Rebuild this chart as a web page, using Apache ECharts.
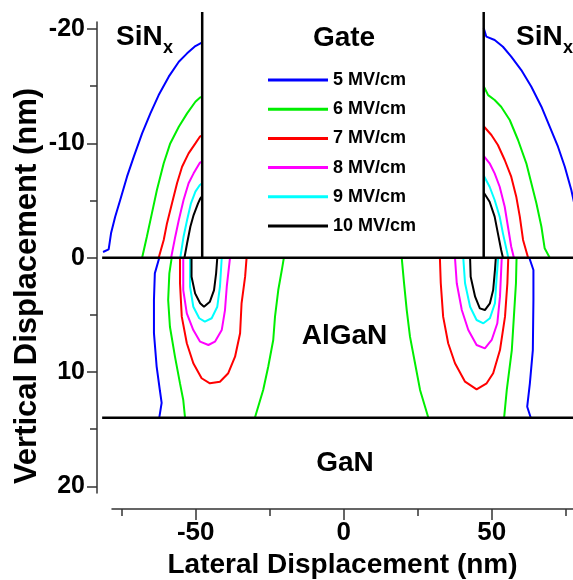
<!DOCTYPE html>
<html><head><meta charset="utf-8">
<script src="https://cdn.jsdelivr.net/npm/echarts@6/dist/echarts.min.js"></script>
<style>html,body{margin:0;padding:0;background:#fff}#c{width:573px;height:580px}</style>
</head><body><div id="c"></div>
<script>
// ---- data (nm) ----
const levels = ['5 MV/cm', '6 MV/cm', '7 MV/cm', '8 MV/cm', '9 MV/cm', '10 MV/cm'];
const xMajorTicks = [-50, 0, 50];
const xMinorTicks = [-75, -25, 25, 75];
const yMajorTicks = [-20, -10, 0, 10, 20];
const yMinorTicks = [-15, -5, 5, 15];
const gateX = [-47.8, 47.3];
const gateTopY = -21.5;
const interfaceY = [0, 14];
const layerXRange = [-81.6, 80];

const blueSiNLeft = [[-81.3,-0.5],[-79.4,-0.73],[-78.6,-2.13],[-77.2,-3.59],[-75.5,-5.05],[-73.2,-7.09],[-70.9,-8.84],[-68.1,-10.88],[-65.3,-12.63],[-62.5,-14.23],[-59.1,-15.84],[-55.7,-17.15],[-52.9,-17.88],[-50.1,-18.52],[-48.4,-18.76],[-47.8,-18.8]];
const blueSiNRight = [[47.3,-20.1],[47.6,-20.07],[48.2,-19.34],[51.0,-19.05],[53.8,-18.46],[56.6,-17.59],[60.0,-16.42],[63.4,-14.96],[66.8,-13.21],[69.6,-11.46],[72.4,-9.71],[74.7,-7.96],[76.9,-5.92],[78.5,-4.0]];
const blueAlGaNLeft = [[-62.3,0],[-63.8,1.37],[-64.1,3.7],[-64.1,6.6],[-63.2,9.5],[-62.1,11.6],[-61.5,12.7],[-62.3,14]];
const blueAlGaNRight = [[62.7,0],[64.1,1.08],[64.1,3.7],[63.9,8.08],[62.9,10.99],[62.0,13.04],[63.2,14]];

const greenSiNLeft = [[-68.1,0],[-66.5,-1.84],[-64.8,-3.88],[-63.1,-5.92],[-60.8,-8.26],[-58.6,-10.0],[-55.7,-11.46],[-52.9,-12.63],[-50.1,-13.65],[-48.6,-14.0],[-47.8,-14.1]];
const greenSiNRight = [[47.3,-15.0],[47.6,-14.96],[48.8,-14.23],[51.0,-13.8],[53.2,-13.21],[56.1,-12.05],[58.9,-10.3],[61.7,-8.26],[63.4,-6.51],[65.1,-4.76],[66.8,-2.71],[67.9,-0.82],[69.6,0]];
const greenAlGaNLeftOuter = [[-58.1,0],[-58.9,1.37],[-59.3,3.7],[-58.7,6.04],[-57.0,8.66],[-55.3,11.0],[-54.2,12.45],[-53.6,14]];
const greenAlGaNLeftInner = [[-20.2,0],[-20.9,1.08],[-22.1,2.83],[-23.2,5.16],[-23.8,7.2],[-25.5,9.54],[-27.2,11.58],[-30.0,14]];
const greenAlGaNRightInner = [[19.6,0],[20.4,2.24],[21.3,4.58],[22.4,6.91],[24.1,9.24],[25.8,11.57],[28.6,14]];
const greenAlGaNRightOuter = [[58.4,0],[58.2,2.24],[57.5,5.16],[56.8,8.08],[55.1,11.57],[54.2,14]];

const redSiNLeft = [[-62.5,0],[-60.8,-1.55],[-59.7,-3.0],[-58.0,-4.76],[-56.3,-6.51],[-54.6,-7.96],[-52.4,-9.13],[-50.1,-10.0],[-48.6,-10.59],[-47.8,-10.7]];
const redSiNRight = [[47.3,-11.5],[47.6,-11.46],[49.9,-10.74],[52.1,-9.86],[54.4,-8.55],[56.6,-7.09],[58.3,-5.34],[59.5,-3.59],[60.6,-1.55],[62.3,0]];
const redAlGaNLeft = [[-55.3,0],[-55.3,2.24],[-54.7,5.16],[-53.0,7.49],[-50.8,9.24],[-48.0,10.55],[-45.2,10.99],[-41.8,10.85],[-39.0,10.11],[-36.7,8.66],[-35.0,6.61],[-34.5,3.99],[-33.3,1.66],[-32.8,0]];
const redAlGaNRight = [[32.5,0],[32.8,2.24],[33.6,5.16],[35.3,7.49],[37.6,9.24],[41.0,10.85],[44.9,11.52],[48.3,10.99],[50.5,10.11],[52.8,8.08],[54.5,5.16],[55.3,2.24],[55.6,0]];

const magentaSiNLeft = [[-58.3,0],[-56.9,-1.84],[-55.7,-3.3],[-54.1,-5.05],[-52.4,-6.51],[-50.7,-7.38],[-48.6,-8.31],[-47.8,-8.4]];
const magentaSiNRight = [[47.3,-8.9],[47.6,-8.84],[49.3,-8.26],[51.0,-7.38],[52.7,-6.21],[54.4,-4.46],[55.5,-2.71],[56.6,-0.96],[57.5,0]];
const magentaAlGaNLeft = [[-54.2,0],[-54.2,2.83],[-53.0,4.87],[-50.8,6.33],[-48.5,7.35],[-45.7,7.64],[-43.5,7.35],[-41.2,6.33],[-40.1,4.58],[-39.5,2.54],[-38.4,0]];
const magentaAlGaNRight = [[37.6,0],[38.2,2.24],[39.9,4.58],[42.1,6.33],[44.9,7.64],[47.7,7.93],[50.0,7.2],[51.9,5.74],[52.8,3.41],[53.4,0]];

const cyanSiNLeft = [[-55.2,0],[-54.1,-1.84],[-52.9,-3.3],[-51.6,-4.76],[-50.1,-5.78],[-48.6,-6.36],[-47.8,-6.5]];
const cyanSiNRight = [[47.3,-7.2],[47.6,-7.09],[49.3,-6.21],[51.0,-5.05],[52.7,-3.59],[53.8,-2.13],[55.3,-0.38],[55.6,0]];
const cyanAlGaNLeft = [[-51.9,0],[-51.9,2.54],[-50.8,4.29],[-48.8,5.3],[-46.9,5.6],[-44.6,5.3],[-42.7,4.29],[-41.8,2.54],[-41.2,0]];
const cyanAlGaNRight = [[40.4,0],[41.0,2.24],[42.7,4.29],[44.9,5.45],[47.2,5.74],[49.4,5.3],[51.1,3.99],[51.7,1.66],[52.2,0]];

const blackSiNLeft = [[-53.8,0],[-52.9,-1.26],[-51.8,-2.71],[-50.7,-3.73],[-49.2,-4.76],[-48.4,-5.2],[-47.8,-5.4]];
const blackSiNRight = [[47.3,-5.7],[47.6,-5.63],[49.3,-4.9],[51.0,-3.59],[52.1,-2.13],[53.2,-0.67],[53.8,0]];
const blackAlGaNLeft = [[-51.4,0],[-51.4,1.66],[-50.2,3.12],[-48.5,3.99],[-47.2,4.3],[-45.2,3.85],[-43.8,2.83],[-43.1,1.37],[-42.7,0]];
const blackAlGaNRight = [[42.7,0],[42.9,1.66],[44.4,3.41],[46.0,4.43],[47.7,4.58],[49.4,3.99],[50.5,2.83],[51.1,1.08],[51.4,0]];

const curvesByLevel = [
  [blueSiNLeft, blueSiNRight, blueAlGaNLeft, blueAlGaNRight],
  [greenSiNLeft, greenSiNRight, greenAlGaNLeftOuter, greenAlGaNLeftInner, greenAlGaNRightInner, greenAlGaNRightOuter],
  [redSiNLeft, redSiNRight, redAlGaNLeft, redAlGaNRight],
  [magentaSiNLeft, magentaSiNRight, magentaAlGaNLeft, magentaAlGaNRight],
  [cyanSiNLeft, cyanSiNRight, cyanAlGaNLeft, cyanAlGaNRight],
  [blackSiNLeft, blackSiNRight, blackAlGaNLeft, blackAlGaNRight]
];

// ---- style ----
const levelColors = ['#0000ff', '#00ee00', '#ff0000', '#ff00ff', '#00ffff', '#000000'];
const FONT = '"Liberation Sans", Arial, sans-serif';
const AXIS_COLOR = '#333';

const series = [];
levels.forEach((name, i) => {
  curvesByLevel[i].forEach(seg => {
    series.push({
      type: 'line', name: name, data: seg, xAxisIndex: 0, yAxisIndex: 0,
      symbol: 'none', showSymbol: false, color: levelColors[i],
      itemStyle: { color: levelColors[i] },
      lineStyle: { width: 2, color: levelColors[i] },
      animation: false, silent: true, z: 3
    });
  });
});
interfaceY.forEach(y => {
  series.push({
    type: 'line', data: [[layerXRange[0], y], [layerXRange[1], y]],
    xAxisIndex: 0, yAxisIndex: 0, symbol: 'none',
    lineStyle: { width: 2.5, color: '#000' }, animation: false, silent: true, z: 4
  });
});
gateX.forEach(x => {
  series.push({
    type: 'line', data: [[x, 0], [x, gateTopY]],
    xAxisIndex: 0, yAxisIndex: 0, symbol: 'none',
    lineStyle: { width: 2.5, color: '#000' }, animation: false, silent: true, z: 4
  });
});

function txt(text, x, y, size, align, vAlign, rotation) {
  return {
    type: 'text', x: x, y: y, rotation: rotation || 0, silent: true, z: 10,
    style: {
      text: text, font: 'bold ' + size + 'px ' + FONT, fill: '#000',
      textAlign: align, textVerticalAlign: vAlign, align: align, verticalAlign: vAlign
    }
  };
}

const option = {
  backgroundColor: '#fff',
  animation: false,
  grid: [
    { left: 97, right: 0, top: 12, bottom: 87 },
    { left: 97, right: 0, top: 22, bottom: 87 },
    { left: 112, right: 0, top: 500, bottom: 71 }
  ],
  xAxis: [
    { gridIndex: 0, type: 'value', min: -83.34, max: 77.47, show: false },
    { gridIndex: 1, type: 'value', min: 0, max: 1, show: false },
    {
      gridIndex: 2, type: 'value', min: -78.28, max: 77.47, position: 'bottom',
      axisLine: { show: true, lineStyle: { color: AXIS_COLOR, width: 1.5 } },
      axisTick: { show: true, length: 11, customValues: xMajorTicks, lineStyle: { color: AXIS_COLOR, width: 1.5 } },
      axisLabel: { show: true, customValues: xMajorTicks, fontSize: 26, fontWeight: 'bold', color: '#000', fontFamily: FONT, margin: 11 },
      splitLine: { show: false },
      name: 'Lateral Displacement (nm)', nameLocation: 'middle', nameGap: 42,
      nameTextStyle: { fontSize: 28, fontWeight: 'bold', color: '#000', fontFamily: FONT }
    },
    {
      gridIndex: 2, type: 'value', min: -78.28, max: 77.47, position: 'bottom',
      axisLine: { show: false },
      axisTick: { show: true, length: 7, customValues: xMinorTicks, lineStyle: { color: AXIS_COLOR, width: 1.5 } },
      axisLabel: { show: false }, splitLine: { show: false }
    }
  ],
  yAxis: [
    { gridIndex: 0, type: 'value', inverse: true, min: -21.5, max: 20.59, show: false },
    {
      gridIndex: 1, type: 'value', inverse: true, min: -20.62, max: 20.59, position: 'left',
      axisLine: { show: true, lineStyle: { color: AXIS_COLOR, width: 1.5 } },
      axisTick: { show: true, length: 10, customValues: yMajorTicks, lineStyle: { color: AXIS_COLOR, width: 1.5 } },
      axisLabel: { show: true, customValues: yMajorTicks, fontSize: 25, fontWeight: 'bold', color: '#000', fontFamily: FONT, margin: 12 },
      splitLine: { show: false }
    },
    {
      gridIndex: 1, type: 'value', inverse: true, min: -20.62, max: 20.59, position: 'left',
      axisLine: { show: false },
      axisTick: { show: true, length: 7, customValues: yMinorTicks, lineStyle: { color: AXIS_COLOR, width: 1.5 } },
      axisLabel: { show: false }, splitLine: { show: false }
    },
    { gridIndex: 2, type: 'value', min: 0, max: 1, show: false }
  ],
  legend: {
    data: levels, orient: 'vertical', left: 268, top: 70, padding: 0,
    itemWidth: 60, itemHeight: 3, itemGap: 9.2, icon: 'rect', selectedMode: false,
    textStyle: { fontSize: 18, fontWeight: 'bold', color: '#000', fontFamily: FONT, lineHeight: 20 }
  },
  graphic: [
    txt('Gate', 344, 38, 28, 'center', 'middle'),
    txt('SiN', 116, 37.5, 28, 'left', 'middle'),
    txt('x', 163, 48.5, 18, 'left', 'middle'),
    txt('SiN', 516, 37.5, 28, 'left', 'middle'),
    txt('x', 563, 48.5, 18, 'left', 'middle'),
    txt('AlGaN', 344.5, 336, 28, 'center', 'middle'),
    txt('GaN', 345, 463, 28, 'center', 'middle'),
    txt('Vertical Displacement (nm)', 27, 286, 31, 'center', 'middle', Math.PI / 2)
  ],
  series: series
};

const chart = echarts.init(document.getElementById('c'), null, { renderer: 'canvas' });
chart.setOption(option);
</script>
</body></html>
